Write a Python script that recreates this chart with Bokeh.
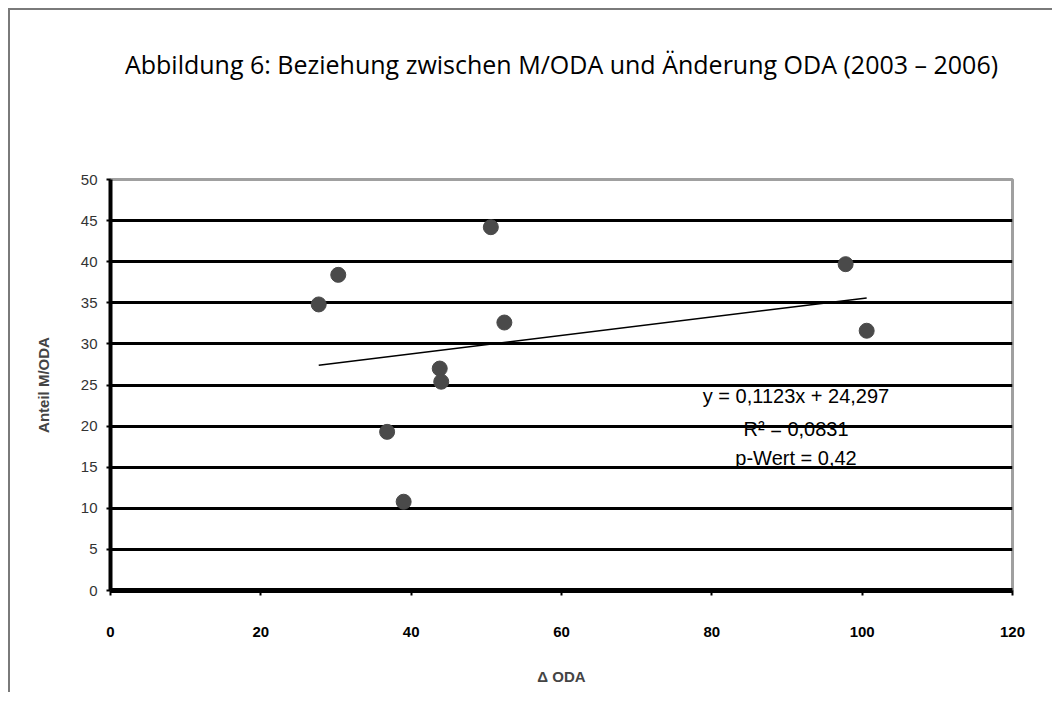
from bokeh.plotting import figure
from bokeh.models import Label, FixedTicker, Range1d, ColumnDataSource, Title
from bokeh.embed import file_html
from bokeh.resources import INLINE

# ---- data ----
delta_oda = [27.7, 30.3, 36.8, 39.0, 43.8, 44.0, 50.6, 52.4, 97.8, 100.6]
anteil_moda = [34.8, 38.4, 19.3, 10.8, 27.0, 25.4, 44.2, 32.6, 39.7, 31.6]
slope = 0.1123
intercept = 24.297
eq_text = "y = 0,1123x + 24,297"
r2_text = "R\u00b2 = 0,0831"
p_text = "p-Wert = 0,42"
x_ticks = [0, 20, 40, 60, 80, 100, 120]
y_ticks = [0, 5, 10, 15, 20, 25, 30, 35, 40, 45, 50]
grid_ticks = [5, 10, 15, 20, 25, 30, 35, 40, 45]
title_text = "Abbildung 6: Beziehung zwischen M/ODA und \u00c4nderung ODA (2003 \u2013 2006)"

p = figure(width=1044, height=684, output_backend="svg", toolbar_location=None,
           x_range=Range1d(0, 120), y_range=Range1d(0, 50),
           min_border_left=100, min_border_right=42, min_border_top=169, min_border_bottom=104,
           background_fill_color="white", border_fill_color="white")
p.styles = {"margin-left": "8px", "margin-top": "8px",
            "border-left": "2px solid #7a7a7a", "border-top": "2px solid #7a7a7a"}

# spacer panel (closest to the frame, drawn white on white), then the real title above it
p.add_layout(Title(text=".", text_font_size="10px", standoff=88, text_color="white"), "above")
p.add_layout(Title(text=title_text, align="center", vertical_align="middle", standoff=0,
                   text_font="Open Sans", text_font_size="25px", text_font_style="normal",
                   text_color="black"), "above")

p.outline_line_color = "#a0a0a0"
p.outline_line_width = 3

p.xgrid.visible = False
p.ygrid.ticker = FixedTicker(ticks=grid_ticks)
p.ygrid.grid_line_color = "black"
p.ygrid.grid_line_width = 3

narrow = "'Liberation Sans Narrow', 'Liberation Sans', Arial, sans-serif"

p.xaxis.ticker = FixedTicker(ticks=x_ticks)
p.xaxis.axis_line_width = 5
p.xaxis.axis_line_color = "black"
p.xaxis.major_tick_out = 5
p.xaxis.major_tick_in = 0
p.xaxis.major_tick_line_width = 2
p.xaxis.minor_tick_line_color = None
p.xaxis.major_label_standoff = 31
p.xaxis.major_label_text_font = narrow
p.xaxis.major_label_text_font_style = "bold"
p.xaxis.major_label_text_font_size = "15px"
p.xaxis.major_label_text_color = "black"
p.xaxis.axis_label = "\u0394 ODA"
p.xaxis.axis_label_text_font = narrow
p.xaxis.axis_label_text_font_style = "bold"
p.xaxis.axis_label_text_font_size = "15px"
p.xaxis.axis_label_standoff = 28

p.yaxis.ticker = FixedTicker(ticks=y_ticks)
p.yaxis.axis_line_width = 4
p.yaxis.axis_line_color = "black"
p.yaxis.major_tick_out = 4
p.yaxis.major_tick_in = 0
p.yaxis.major_tick_line_width = 2
p.yaxis.minor_tick_line_color = None
p.yaxis.major_label_standoff = 9
p.yaxis.major_label_text_font = "Liberation Sans"
p.yaxis.major_label_text_font_size = "15px"
p.yaxis.major_label_text_color = "#333333"
p.yaxis.axis_label = "Anteil M/ODA"
p.yaxis.axis_label_text_font = "Liberation Sans"
p.yaxis.axis_label_text_font_style = "bold"
p.yaxis.axis_label_text_font_size = "15px"
p.yaxis.axis_label_standoff = 26

# trend line from regression coefficients over the data's x span
x0, x1 = min(delta_oda), max(delta_oda)
trend = ColumnDataSource(dict(x=[x0, x1], y=[slope * x0 + intercept, slope * x1 + intercept]))
p.line("x", "y", source=trend, line_color="black", line_width=1.5)

pts = ColumnDataSource(dict(x=delta_oda, y=anteil_moda))
p.scatter("x", "y", source=pts, size=15, fill_color="#4a4a4a", line_color="#4a4a4a")

for txt, yy in [(eq_text, 23.7), (r2_text, 19.7), (p_text, 16.1)]:
    p.add_layout(Label(x=91.2, y=yy, text=txt, text_align="center", text_baseline="middle",
                       text_font="Liberation Sans", text_font_size="20px", text_color="black"))

open("out.html", "w").write(file_html(p, INLINE))
